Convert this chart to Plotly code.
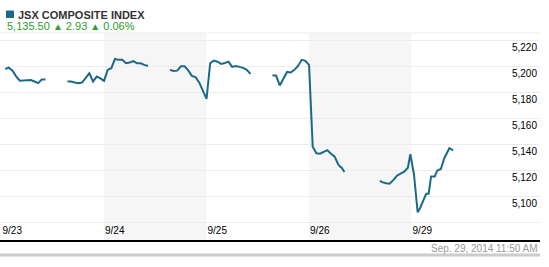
import plotly.graph_objects as go

# ---------------- data ----------------
tick_labels = ["9/23", "9/24", "9/25", "9/26", "9/29"]
y_ticks = [5080, 5100, 5120, 5140, 5160, 5180, 5200, 5220]
y_tick_text = ["", "5,100", "5,120", "5,140", "5,160", "5,180", "5,200", "5,220"]

sep23_time = ["09:15", "09:30", "09:45", "10:00", "10:15", "10:30", "10:45", "11:00", "11:15", "11:30", "11:45", "12:00",
              "13:30", "13:45", "14:00", "14:15", "14:30", "14:45", "15:00", "15:15", "15:30", "15:45", "16:00"]
sep23_value = [5198.2, 5199.2, 5196.9, 5192.5, 5189.2, 5189.5, 5189.5, 5189.7, 5188.5, 5187.3, 5190.0, 5190.0,
               5188.5, 5188.5, 5187.8, 5187.2, 5187.7, 5191.1, 5194.9, 5188.5, 5192.3, 5190.9, 5189.0]

sep24_time = ["09:15", "09:30", "09:45", "10:00", "10:15", "10:30", "10:45", "11:00", "11:15", "11:30", "11:45", "12:00",
              "13:30", "13:45", "14:00", "14:15", "14:30", "14:45", "15:00", "15:15", "15:30", "15:45", "16:00"]
sep24_value = [5197.5, 5198.8, 5205.9, 5205.2, 5205.2, 5202.6, 5203.2, 5204.2, 5202.6, 5202.6, 5201.3, 5200.5,
               5197.5, 5196.7, 5196.9, 5200.2, 5200.2, 5197.1, 5192.9, 5191.9, 5187.8, 5182.1, 5175.2]

sep25_time = ["09:15", "09:30", "09:45", "10:00", "10:15", "10:30", "10:45", "11:00", "11:15", "11:30", "11:45", "12:00",
              "13:30", "13:45", "14:00", "14:15", "14:30", "14:45", "15:00", "15:15", "15:30", "15:45", "16:00"]
sep25_value = [5202.6, 5204.6, 5203.8, 5202.1, 5202.8, 5203.8, 5199.8, 5200.5, 5199.8, 5199.0, 5197.5, 5194.4,
               5193.1, 5193.1, 5185.5, 5190.2, 5195.9, 5195.5, 5197.5, 5200.5, 5205.2, 5204.4, 5201.3]

sep26_time = ["09:15", "09:30", "09:45", "10:00", "10:15", "10:30", "10:45", "11:00", "11:15", "11:25",
              "13:50", "14:00", "14:15", "14:30", "14:45", "15:00", "15:15", "15:30", "15:45", "15:55"]
sep26_value = [5138.2, 5133.2, 5132.9, 5134.0, 5135.6, 5132.9, 5130.6, 5124.4, 5121.7, 5118.8,
               5112.0, 5111.0, 5110.2, 5109.8, 5112.5, 5115.9, 5117.6, 5119.0, 5122.1, 5132.6]

sep29_time = ["09:10", "09:25", "09:35", "09:50", "10:00", "10:10", "10:20", "10:35", "10:45", "11:00", "11:15", "11:35", "11:50"]
sep29_value = [5116.7, 5087.7, 5091.1, 5098.3, 5102.1, 5102.1, 5115.4, 5115.4, 5119.8, 5121.1, 5129.8, 5137.1, 5135.5]

day_times = [sep23_time, sep24_time, sep25_time, sep26_time, sep29_time]
day_values = [sep23_value, sep24_value, sep25_value, sep26_value, sep29_value]

# trading-hour index: each day = 09:00..16:00 (7 hours)
HOURS_PER_DAY = 7
xs, ys = [], []
for i, (tt, vv) in enumerate(zip(day_times, day_values)):
    prev_h = None
    for t, v in zip(tt, vv):
        hh, mm = map(int, t.split(":"))
        h = hh + mm / 60.0
        if prev_h is not None and h - prev_h > 1.0:
            xs.append(None)
            ys.append(None)
        xs.append(i * HOURS_PER_DAY + h - 9)
        ys.append(v)
        prev_h = h

tick_pos = [i * HOURS_PER_DAY for i in range(len(tick_labels))]

LINE = "#1B6A87"
GREEN = "#2BA02B"

fig = go.Figure()
fig.add_trace(go.Scatter(x=xs, y=ys, mode="lines", line=dict(color=LINE, width=2),
                         connectgaps=False, hoverinfo="skip", showlegend=False))

shapes = []
# shaded alternating days (9/24, 9/26)
for i in (1, 3):
    shapes.append(dict(type="rect", xref="x", yref="paper", x0=tick_pos[i], x1=tick_pos[i] + HOURS_PER_DAY,
                       y0=0, y1=1, fillcolor="#f6f6f6", line=dict(width=0), layer="below"))
# top border
shapes.append(dict(type="line", xref="paper", yref="paper", x0=0, x1=1, y0=1, y1=1,
                   line=dict(color="#ececec", width=1), layer="below"))
# bottom grey bar
shapes.append(dict(type="line", xref="paper", yref="paper", x0=0, x1=1, y0=-0.0725, y1=-0.0725,
                   line=dict(color="#cccccc", width=3)))
# title square
shapes.append(dict(type="rect", xref="paper", yref="paper", x0=6 / 540, x1=14 / 540,
                   y0=(240 - 18) / 207, y1=(240 - 10.5) / 207, fillcolor=LINE, line=dict(width=0)))

annotations = [
    dict(text="<b>JSX COMPOSITE INDEX</b>", xref="paper", yref="paper", x=16 / 540, y=(240 - 14.5) / 207,
         xanchor="left", yanchor="middle", showarrow=False, font=dict(family="Arial", size=11, color="#333333")),
    dict(text="5,135.50 <span style='font-size:10px'>▲</span> 2.93 <span style='font-size:10px'>▲</span> 0.06%",
         xref="paper", yref="paper", x=5 / 540, y=(240 - 25.5) / 207,
         xanchor="left", yanchor="middle", showarrow=False, font=dict(family="Arial", size=11, color=GREEN)),
    dict(text="Sep. 29, 2014 11:50 AM", xref="paper", yref="paper", x=1, y=(240 - 248.5) / 207,
         xanchor="right", yanchor="middle", showarrow=False, font=dict(family="Arial", size=10, color="#999999")),
]

fig.update_layout(
    width=549, height=267,
    margin=dict(l=0, r=9, t=33, b=27),
    paper_bgcolor="white", plot_bgcolor="white",
    shapes=shapes, annotations=annotations,
    xaxis=dict(range=[-0.102, 36.77], tickvals=tick_pos, ticktext=tick_labels, ticks="",
               ticklabelposition="inside right", showgrid=False, zeroline=False,
               showline=True, linecolor="black", linewidth=2,
               tickfont=dict(family="Arial", size=10, color="#000000")),
    yaxis=dict(range=[5066.4, 5225.9], tickvals=y_ticks, ticktext=y_tick_text, side="right",
               ticklabelposition="inside bottom", ticks="", showgrid=True, gridcolor="#ececec", gridwidth=1,
               zeroline=False, showline=False,
               tickfont=dict(family="Arial", size=10, color="#000000")),
)

fig.write_html("out.html")
